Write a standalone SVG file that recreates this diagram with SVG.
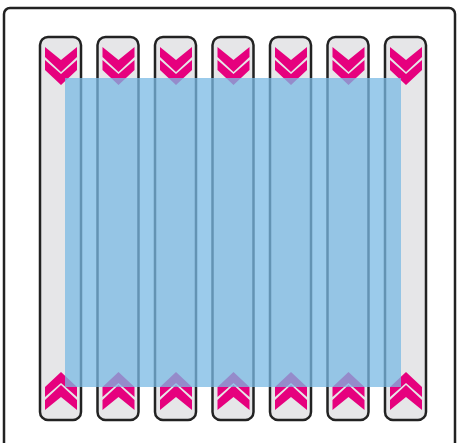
<svg xmlns="http://www.w3.org/2000/svg" width="457" height="443" viewBox="0 0 457 443">
<style>
.frame{fill:#ffffff;stroke:#222;stroke-width:2.5}
.strip{fill:#e6e6e8;stroke:#222;stroke-width:2.5}
.chev{fill:#e6007e}
.blue{fill:#7ab9e4;opacity:0.75}
</style>
<defs>
<g id="down">
<polygon class="chev" points="0,0 16,13 32,0 32,10 16,25 0,10"/>
<polygon class="chev" points="0,13 16,27 32,13 32,23 16,38 0,23"/>
</g>
<g id="up">
<polygon class="chev" points="0,38 16,25 32,38 32,28 16,13 0,28"/>
<polygon class="chev" points="0,25 16,11 32,25 32,15 16,0 0,15"/>
</g>
</defs>
<rect id="frame" class="frame" x="4" y="8" width="451" height="445" rx="6"/>
<g id="strips">
<g id="strip1"><rect class="strip" x="40" y="37" width="41" height="383" rx="8"/><use href="#down" x="45" y="47"/><use href="#up" x="45" y="372"/></g>
<g id="strip2"><rect class="strip" x="97.5" y="37" width="41" height="383" rx="8"/><use href="#down" x="102.5" y="47"/><use href="#up" x="102.5" y="372"/></g>
<g id="strip3"><rect class="strip" x="155" y="37" width="41" height="383" rx="8"/><use href="#down" x="160" y="47"/><use href="#up" x="160" y="372"/></g>
<g id="strip4"><rect class="strip" x="212.5" y="37" width="41" height="383" rx="8"/><use href="#down" x="217.5" y="47"/><use href="#up" x="217.5" y="372"/></g>
<g id="strip5"><rect class="strip" x="270" y="37" width="41" height="383" rx="8"/><use href="#down" x="275" y="47"/><use href="#up" x="275" y="372"/></g>
<g id="strip6"><rect class="strip" x="327.5" y="37" width="41" height="383" rx="8"/><use href="#down" x="332.5" y="47"/><use href="#up" x="332.5" y="372"/></g>
<g id="strip7"><rect class="strip" x="385" y="37" width="41" height="383" rx="8"/><use href="#down" x="390" y="47"/><use href="#up" x="390" y="372"/></g>
</g>
<rect id="overlay" class="blue" x="65" y="78" width="336" height="309"/>
<g id="connectors"/>
</svg>
